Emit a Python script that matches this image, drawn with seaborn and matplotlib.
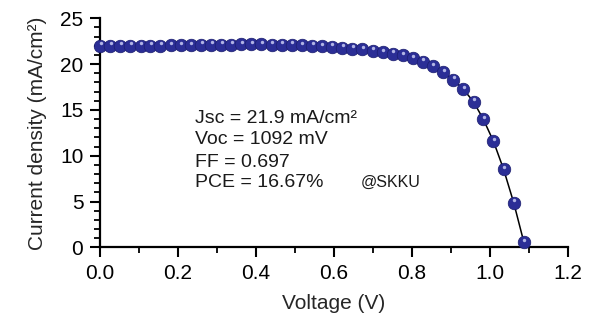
import matplotlib
matplotlib.use("Agg")
import matplotlib.pyplot as plt
from matplotlib.ticker import MultipleLocator
from matplotlib.transforms import offset_copy
import pandas as pd
import seaborn as sns

# J-V data
voltage = [0.000, 0.026, 0.052, 0.078, 0.104, 0.129, 0.155, 0.181, 0.207, 0.233,
           0.259, 0.285, 0.311, 0.336, 0.362, 0.388, 0.414, 0.440, 0.466, 0.492,
           0.518, 0.544, 0.569, 0.595, 0.621, 0.647, 0.673, 0.699, 0.725, 0.751,
           0.776, 0.802, 0.828, 0.854, 0.880, 0.906, 0.932, 0.958, 0.983, 1.009,
           1.035, 1.061, 1.087]
current = [22.0, 22.0, 22.0, 22.0, 22.0, 22.0, 22.0, 22.05, 22.05, 22.05,
           22.1, 22.1, 22.1, 22.1, 22.15, 22.15, 22.15, 22.1, 22.1, 22.1,
           22.05, 22.0, 21.95, 21.9, 21.8, 21.7, 21.6, 21.45, 21.3, 21.15,
           20.95, 20.65, 20.25, 19.8, 19.1, 18.3, 17.25, 15.9, 14.0, 11.6,
           8.55, 4.9, 0.6]

params = ["Jsc = 21.9 mA/cm\u00b2", "Voc = 1092 mV", "FF = 0.697", "PCE = 16.67%"]
x_ticks = [0.0, 0.2, 0.4, 0.6, 0.8, 1.0, 1.2]
y_ticks = [0, 5, 10, 15, 20, 25]

df = pd.DataFrame({"V": voltage, "J": current})

sns.set_style("ticks")
plt.rcParams["font.family"] = ["Liberation Sans", "DejaVu Sans"]

fig = plt.figure(figsize=(5.94, 3.25), dpi=100)
ax = fig.add_axes([0.1684, 0.2385, 0.7876, 0.7052])

blue = "#2B2E96"
sns.lineplot(data=df, x="V", y="J", ax=ax, color="black", linewidth=1.1, zorder=2)
sns.scatterplot(data=df, x="V", y="J", ax=ax, color=blue, s=82,
                edgecolor="#1B1D6E", linewidth=0.5, zorder=3, clip_on=False)
# small glossy highlight on each sphere
hl = offset_copy(ax.transData, fig=fig, x=0.5, y=2.4, units="dots")
sns.scatterplot(data=df, x="V", y="J", ax=ax, color="#C9CCF2", s=6,
                linewidth=0, alpha=0.85, zorder=4, transform=hl, clip_on=False)

ax.set_xlim(0, 1.2)
ax.set_ylim(0, 25)
ax.set_xticks(x_ticks)
ax.set_yticks(y_ticks)
ax.set_xticklabels([f"{t:.1f}" for t in x_ticks])
ax.xaxis.set_minor_locator(MultipleLocator(0.1))
ax.yaxis.set_minor_locator(MultipleLocator(1))

for side in ["top", "right"]:
    ax.spines[side].set_visible(False)
for side in ["left", "bottom"]:
    ax.spines[side].set_linewidth(1.6)
    ax.spines[side].set_color("black")

ax.tick_params(which="major", direction="out", length=7, width=1.5,
               labelsize=15, colors="black", pad=5)
ax.tick_params(which="minor", direction="out", length=4, width=1.3, colors="black")

ax.set_xlabel("Voltage (V)", fontsize=15, labelpad=8)
ax.set_ylabel("Current density (mA/cm\u00b2)", fontsize=15, labelpad=9)

text_y = [14.1, 11.8, 9.3, 7.1]
for label, ty in zip(params, text_y):
    ax.text(0.244, ty, label, fontsize=14, ha="left", va="center", color="#1a1a1a")
ax.text(0.669, 7.1, "@SKKU", fontsize=11.5, ha="left", va="center", color="#1a1a1a")

fig.savefig("out.png", dpi=100, facecolor="white")
